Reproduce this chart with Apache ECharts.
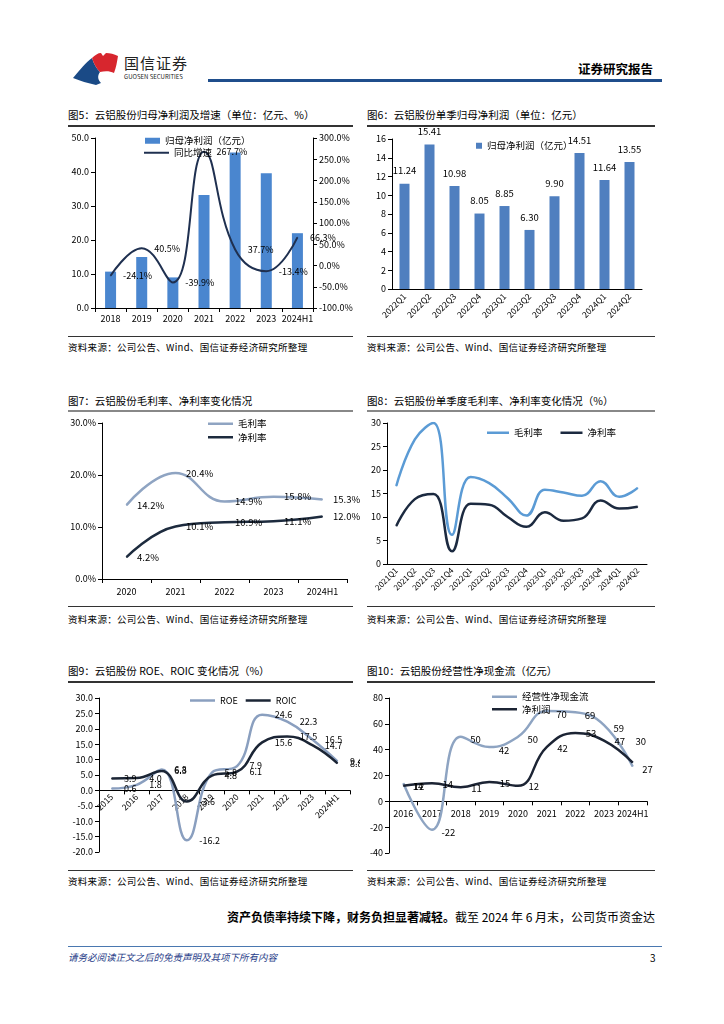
<!DOCTYPE html>
<html><head><meta charset="utf-8">
<script src="https://cdn.jsdelivr.net/npm/echarts/dist/echarts.min.js"></script>
<style>
body{margin:0;background:#fff;width:724px;height:1024px;position:relative;overflow:hidden;font-family:"Noto Sans CJK SC","Noto Sans",sans-serif;color:#000;}
.a{position:absolute;white-space:nowrap;line-height:1;}
.title{font-size:10.5px;}
.src{font-size:9.5px;letter-spacing:0.3px;}
.rule{position:absolute;height:1.5px;background:#333;}
.rule2{position:absolute;height:2px;background:#888;}
.chart{position:absolute;}
</style></head><body>

<svg class="a" style="left:70px;top:50px" width="55" height="36" viewBox="0 0 55 36">
  <path d="M3,28 C10,20 16,12 22,8 C24,14 26,18 30,22 C27,26 28,30 31,33 L26,35 C18,33 10,31 3,28 Z" fill="#1a4a86"/>
  <path d="M22,8 C25,5 28,3 31,3 L33,6 L36,3 C40,3 44,4 48,6 C47,12 46,18 44,23 C40,21 35,21 30,22 C26,18 24,14 22,8 Z" fill="#d7262e"/>
</svg>
<div class="a" style="left:124px;top:55px;font-size:15px;letter-spacing:1px;color:#222;">国信证券</div>
<div class="a" style="left:124px;top:74px;font-size:6px;color:#222;">GUOSEN SECURITIES</div>
<div class="a" style="left:578px;top:63px;font-size:12.5px;font-weight:bold;">证券研究报告</div>
<div style="position:absolute;left:208px;top:79px;width:454px;height:2.5px;background:#1f4e8c;"></div>

<div class="a title" style="left:68px;top:110px;">图5：云铝股份归母净利润及增速（单位：亿元、%）</div>
<div class="rule" style="left:68px;top:125px;width:285px;"></div>
<div class="a title" style="left:367px;top:110px;">图6：云铝股份单季归母净利润（单位：亿元）</div>
<div class="rule" style="left:367px;top:125px;width:288px;"></div>
<div class="rule" style="left:68px;top:336px;width:285px;height:1px;"></div>
<div class="rule" style="left:367px;top:336px;width:288px;height:1px;"></div>
<div class="a src" style="left:68px;top:343px;">资料来源：公司公告、Wind、国信证券经济研究所整理</div>
<div class="a src" style="left:367px;top:343px;">资料来源：公司公告、Wind、国信证券经济研究所整理</div>

<div class="a title" style="left:68px;top:396px;">图7：云铝股份毛利率、净利率变化情况</div>
<div class="rule2" style="left:68px;top:410px;width:285px;"></div>
<div class="a title" style="left:367px;top:396px;">图8：云铝股份单季度毛利率、净利率变化情况（%）</div>
<div class="rule2" style="left:367px;top:410px;width:288px;"></div>
<div class="rule" style="left:68px;top:606px;width:285px;height:1px;"></div>
<div class="rule" style="left:367px;top:606px;width:288px;height:1px;"></div>
<div class="a src" style="left:68px;top:615px;">资料来源：公司公告、Wind、国信证券经济研究所整理</div>
<div class="a src" style="left:367px;top:615px;">资料来源：公司公告、Wind、国信证券经济研究所整理</div>

<div class="a title" style="left:68px;top:666px;">图9：云铝股份 ROE、ROIC 变化情况（%）</div>
<div class="rule" style="left:68px;top:681px;width:285px;"></div>
<div class="a title" style="left:367px;top:666px;">图10：云铝股份经营性净现金流（亿元）</div>
<div class="rule" style="left:367px;top:681px;width:288px;"></div>
<div class="rule" style="left:68px;top:870px;width:285px;height:1px;"></div>
<div class="rule" style="left:367px;top:870px;width:288px;height:1px;"></div>
<div class="a src" style="left:68px;top:877px;">资料来源：公司公告、Wind、国信证券经济研究所整理</div>
<div class="a src" style="left:367px;top:877px;">资料来源：公司公告、Wind、国信证券经济研究所整理</div>

<div class="a" style="right:69px;top:911px;font-size:12px;"><b>资产负债率持续下降，财务负担显著减轻。</b>截至 2024 年 6 月末，公司货币资金达</div>
<div style="position:absolute;left:68px;top:946px;width:594px;height:1px;background:#4a78b0;"></div>
<div class="a" style="left:68px;top:953px;font-size:9.5px;font-style:italic;color:#1f3c88;">请务必阅读正文之后的免责声明及其项下所有内容</div>
<div class="a" style="left:650px;top:953px;font-size:10px;">3</div>

<div id="c5" class="chart" style="left:60px;top:128px;width:300px;height:205px;"></div>
<div id="c6" class="chart" style="left:360px;top:128px;width:310px;height:208px;"></div>
<div id="c7" class="chart" style="left:60px;top:413px;width:300px;height:190px;"></div>
<div id="c8" class="chart" style="left:360px;top:413px;width:310px;height:192px;"></div>
<div id="c9" class="chart" style="left:60px;top:683px;width:300px;height:185px;"></div>
<div id="c10" class="chart" style="left:360px;top:683px;width:310px;height:185px;"></div>

<script>
// ---- data ----
const years5 = ['2018','2019','2020','2021','2022','2023','2024H1'];
const profit5 = [10.7, 15.0, 9.0, 33.2, 45.7, 39.6, 22.0];
const growth5 = [-24.1, 40.5, -39.9, 267.7, 37.7, -13.4, 66.3];

const quarters6 = ['2022Q1','2022Q2','2022Q3','2022Q4','2023Q1','2023Q2','2023Q3','2023Q4','2024Q1','2024Q2'];
const profit6 = [11.24, 15.41, 10.98, 8.05, 8.85, 6.30, 9.90, 14.51, 11.64, 13.55];

const years7 = ['2020','2021','2022','2023','2024H1'];
const gross7 = [14.2, 20.4, 14.9, 15.8, 15.3];
const net7 = [4.2, 10.1, 10.9, 11.1, 12.0];

const quarters8 = ['2021Q1','2021Q2','2021Q3','2021Q4','2022Q1','2022Q2','2022Q3','2022Q4','2023Q1','2023Q2','2023Q3','2023Q4','2024Q1','2024Q2'];
const gross8 = [16.6, 26.5, 30.0, 6.2, 18.5, 17.2, 14.0, 10.3, 15.8, 15.2, 14.5, 17.6, 14.3, 16.2];
const net8 = [8.1, 13.8, 14.9, 2.7, 12.8, 12.6, 10.0, 7.9, 11.0, 9.2, 9.7, 13.5, 11.8, 12.2];

const years9 = ['2015','2016','2017','2018','2019','2020','2021','2022','2023','2024H1'];
const roe9 = [0.6, 1.8, 6.8, -16.2, 5.8, 7.9, 24.6, 22.3, 16.5, 9.4];
const roic9 = [3.9, 4.0, 6.3, -3.6, 4.8, 6.1, 15.6, 17.5, 14.7, 8.8];

const years10 = ['2016','2017','2018','2019','2020','2021','2022','2023','2024H1'];
const cash10 = [14, -22, 50, 42, 50, 70, 69, 59, 27];
const net10 = [12, 14, 11, 15, 12, 42, 53, 47, 30];

// ---- common styles ----
const FONT = '"Noto Sans CJK SC","Noto Sans",sans-serif';
const axisLine = {show:true, lineStyle:{color:'#000', width:1}};
const axisTick = {show:true, length:4, lineStyle:{color:'#000'}};
const lbl = {color:'#000', fontSize:9, fontFamily:FONT};
function mk(id){ return echarts.init(document.getElementById(id), null, {renderer:'canvas'}); }
function lineSeries(name, data, color, label, extra){
  return Object.assign({name, type:'line', data, smooth:0.45, symbol:'circle', symbolSize:1, showSymbol:true,
    lineStyle:{color, width:2.5}, itemStyle:{color}, label:Object.assign({show:!!label, color:'#000', fontSize:9.5}, label||{})}, extra||{});
}

// ---- chart 5 ----
mk('c5').setOption({
  animation:false,
  textStyle:{fontFamily:FONT},
  grid:{left:35, top:10, width:218, height:170},
  legend:[
    {data:['归母净利润（亿元）'], left:80, top:3, icon:'rect', itemWidth:15, itemHeight:6, itemGap:4, textStyle:{fontSize:9.5, color:'#000'}},
    {data:['同比增速'], left:79, top:15, icon:'rect', itemWidth:25, itemHeight:2, textStyle:{fontSize:9.5, color:'#000'}}
  ],
  xAxis:{type:'category', data:years5, boundaryGap:true, axisLine, axisTick:Object.assign({alignWithLabel:false, interval:0}, axisTick), axisLabel:Object.assign({margin:6, interval:0}, lbl)},
  yAxis:[
    {type:'value', min:0, max:50, interval:10, axisLine, axisTick, splitLine:{show:false}, axisLabel:Object.assign({formatter:v=>v.toFixed(1), margin:6}, lbl)},
    {type:'value', min:-100, max:300, interval:50, position:'right', axisLine, axisTick, splitLine:{show:false}, axisLabel:Object.assign({formatter:v=>v.toFixed(1)+'%', margin:6}, lbl)}
  ],
  series:[
    {name:'归母净利润（亿元）', type:'bar', data:profit5, barWidth:11, itemStyle:{color:'#4a86cf'}},
    lineSeries('同比增速', growth5, '#1f3050', {position:'right', distance:12, fontSize:9, formatter:p=>p.value.toFixed(1)+'%'}, {yAxisIndex:1, lineStyle:{color:'#1f3050', width:2}})
  ]
});

// ---- chart 6 ----
mk('c6').setOption({
  animation:false,
  textStyle:{fontFamily:FONT},
  grid:{left:32, top:11, width:250, height:150},
  legend:{data:['归母净利润（亿元）'], left:111, top:8, icon:'rect', itemWidth:6, itemHeight:6, itemGap:3, textStyle:{fontSize:9.5, color:'#000'}},
  xAxis:{type:'category', data:quarters6, boundaryGap:true, axisLine, axisTick:{show:false}, axisLabel:Object.assign({rotate:45, margin:6, interval:0}, lbl, {fontSize:8.5})},
  yAxis:{type:'value', min:0, max:16, interval:2, axisLine, axisTick, splitLine:{show:false}, axisLabel:Object.assign({margin:6}, lbl)},
  series:[{name:'归母净利润（亿元）', type:'bar', data:profit6, barWidth:10, itemStyle:{color:'#4f7fbf'},
    label:{show:true, position:'top', distance:8, formatter:p=>p.value.toFixed(2), color:'#000', fontSize:9.5}}]
});

// ---- chart 7 ----
mk('c7').setOption({
  animation:false,
  textStyle:{fontFamily:FONT},
  grid:{left:42, top:10, width:245, height:156},
  legend:{data:['毛利率','净利率'], orient:'vertical', left:143, top:1, icon:'rect', itemWidth:25, itemHeight:2.5, itemGap:4, textStyle:{fontSize:9.5, color:'#000'}},
  xAxis:{type:'category', data:years7, boundaryGap:true, axisLine, axisTick, axisLabel:Object.assign({margin:8, interval:0}, lbl)},
  yAxis:{type:'value', min:0, max:30, interval:10, axisLine, axisTick, splitLine:{show:false}, axisLabel:Object.assign({formatter:v=>v.toFixed(1)+'%', margin:6}, lbl)},
  series:[
    lineSeries('毛利率', gross7, '#8fa4c2', {position:'right', distance:10, formatter:p=>p.value.toFixed(1)+'%'}),
    lineSeries('净利率', net7, '#1d2b3e', {position:'right', distance:10, formatter:p=>p.value.toFixed(1)+'%'})
  ]
});

// ---- chart 8 ----
mk('c8').setOption({
  animation:false,
  textStyle:{fontFamily:FONT},
  grid:{left:27, top:10, width:260, height:141},
  legend:{data:['毛利率','净利率'], left:122, top:10, icon:'rect', itemWidth:22, itemHeight:2.5, itemGap:18, textStyle:{fontSize:9.5, color:'#000'}},
  xAxis:{type:'category', data:quarters8, boundaryGap:true, axisLine, axisTick:{show:false}, axisLabel:Object.assign({rotate:45, margin:5, interval:0}, lbl, {fontSize:8})},
  yAxis:{type:'value', min:0, max:30, interval:5, axisLine, axisTick, splitLine:{show:false}, axisLabel:Object.assign({margin:6}, lbl)},
  series:[
    lineSeries('毛利率', gross8, '#5b9bd5', null),
    lineSeries('净利率', net8, '#1c2a40', null)
  ]
});

// ---- chart 9 ----
// x axis sits on the zero line: offset = -(0 - min)/(max - min) * grid height
const g9h = 154;
mk('c9').setOption({
  animation:false,
  textStyle:{fontFamily:FONT},
  grid:{left:39, top:15, width:251, height:g9h},
  legend:{data:['ROE','ROIC'], left:125, top:8, icon:'rect', itemWidth:25, itemHeight:2.5, itemGap:8, textStyle:{fontSize:9, color:'#000'}},
  xAxis:{type:'category', data:years9, boundaryGap:true, offset:-g9h*20/50, axisLine:{show:true, onZero:false, lineStyle:{color:'#000'}}, axisTick, axisLabel:Object.assign({rotate:45, margin:5, interval:0}, lbl, {fontSize:8.5})},
  yAxis:{type:'value', min:-20, max:30, interval:5, axisLine, axisTick, splitLine:{show:false}, axisLabel:Object.assign({formatter:v=>v.toFixed(1), margin:6}, lbl)},
  series:[
    lineSeries('ROE', roe9, '#8a9fbf', {position:'right', distance:12, fontSize:9, formatter:p=>p.value.toFixed(1)}),
    lineSeries('ROIC', roic9, '#1b2535', {position:'right', distance:12, fontSize:9, formatter:p=>p.value.toFixed(1)})
  ]
});

// ---- chart 10 ----
const g10h = 155;
const lastIdx = net10.length - 1;
mk('c10').setOption({
  animation:false,
  textStyle:{fontFamily:FONT},
  grid:{left:29, top:15, width:258, height:g10h},
  legend:[
    {data:['经营性净现金流','净利润'], orient:'vertical', left:127, top:4, icon:'rect', itemWidth:25, itemHeight:2.5, itemGap:3, textStyle:{fontSize:9.5, color:'#000'}}
  ],
  xAxis:{type:'category', data:years10, boundaryGap:true, offset:-g10h*40/120, axisLine:{show:true, onZero:false, lineStyle:{color:'#000'}}, axisTick, axisLabel:Object.assign({margin:8, interval:0}, lbl)},
  yAxis:{type:'value', min:-40, max:80, interval:20, axisLine, axisTick, splitLine:{show:false}, axisLabel:Object.assign({margin:6}, lbl)},
  series:[
    lineSeries('经营性净现金流', cash10, '#8ea4c2', {position:'right', distance:9, offset:[0,3]}),
    lineSeries('净利润', net10.map((v,i)=> i===lastIdx ? {value:v, label:{position:'top', offset:[8,-6]}} : v), '#1c2434', {position:'right', distance:10, offset:[0,1]})
  ]
});
</script>
</body></html>
